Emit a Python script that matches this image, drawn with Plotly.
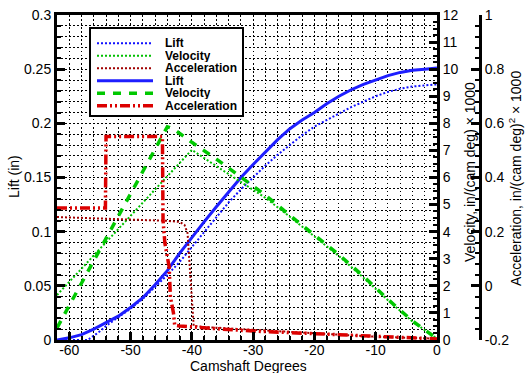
import plotly.graph_objects as go

# ---------------- data ----------------
# thin dotted series
lift_a_deg = [-62, -57, -56, -55, -54, -52, -50, -48, -46, -44, -42, -40, -38, -36, -34, -32,
              -30, -28, -26, -24, -22, -20, -18, -16, -14, -12, -10, -8, -6, -4, -2, 0]
lift_a = [0.000, 0.000, 0.004, 0.008, 0.013, 0.021, 0.029, 0.038, 0.049, 0.060, 0.072, 0.086,
          0.099, 0.113, 0.127, 0.139, 0.150, 0.161, 0.171, 0.180, 0.189, 0.197, 0.203, 0.209,
          0.215, 0.220, 0.225, 0.229, 0.232, 0.234, 0.235, 0.236]

vel_a_deg = [-62, -40, -36, -32, -28, -24, -20, -16, -12, -8, -4, 0]
vel_a = [1.66, 7.02, 6.42, 5.82, 5.25, 4.55, 3.83, 3.10, 2.30, 1.47, 0.68, 0.05]

acc_a_deg = [-62, -50, -44, -42, -41.2, -40.7, -40.3, -39.9, -39.7, -38, -30, -20, -10, 0]
acc_a = [0.254, 0.245, 0.240, 0.236, 0.225, 0.195, 0.070, -0.050, -0.148, -0.152, -0.163,
         -0.176, -0.188, -0.195]

# thick series
lift_b_deg = [-62, -60, -58, -56, -54, -52, -50, -48, -46, -44, -42, -40, -38, -36, -34, -32,
              -30, -28, -26, -24, -22, -20, -18, -16, -14, -12, -10, -8, -6, -4, -2, 0]
lift_b = [0.000, 0.002, 0.005, 0.010, 0.016, 0.022, 0.030, 0.039, 0.051, 0.064, 0.080, 0.095,
          0.109, 0.123, 0.137, 0.150, 0.162, 0.174, 0.185, 0.195, 0.203, 0.210, 0.218, 0.225,
          0.231, 0.236, 0.240, 0.244, 0.247, 0.249, 0.250, 0.251]

vel_b_deg = [-62, -44, -43, -40, -36, -32, -28, -24, -20, -16, -12, -8, -4, 0]
vel_b = [0.45, 7.87, 7.80, 7.30, 6.68, 6.02, 5.35, 4.60, 3.88, 3.15, 2.35, 1.50, 0.70, 0.05]

acc_b_deg = [-62, -54.1, -54.0, -44.8, -44.7, -44.4, -43.7, -43.5, -43.0, -42.8, -42, -40,
             -35, -30, -25, -20, -15, -10, -5, 0]
acc_b = [0.287, 0.287, 0.551, 0.551, 0.243, 0.158, 0.070, -0.041, -0.100, -0.145, -0.148,
         -0.152, -0.160, -0.167, -0.172, -0.178, -0.184, -0.189, -0.193, -0.196]

# tick labels
x_ticks = [-60, -50, -40, -30, -20, -10, 0]
x_ticktext = ["-60", "-50", "-40", "-30", "-20", "-10", "0"]
lift_ticks = [0, 0.05, 0.1, 0.15, 0.2, 0.25, 0.3]
lift_ticktext = ["0", "0.05", "0.1", "0.15", "0.2", "0.25", "0.3"]
vel_ticks = list(range(0, 13))
vel_ticktext = [str(v) for v in vel_ticks]
acc_ticks = [-0.2, 0, 0.2, 0.4, 0.6, 0.8, 1]
acc_ticktext = ["-0.2", "0", "0.2", "0.4", "0.6", "0.8", "1"]

legend_names = ["Lift", "Velocity", "Acceleration", "Lift", "Velocity", "Acceleration"]

# ---------------- styles ----------------
FONT = "Liberation Sans, Arial, sans-serif"
BLUE_T = "#1010FF"
GREEN_T = "#00C000"
RED_T = "#A00000"
BLUE = "#1E1EFF"
GREEN = "#00C800"
RED = "#DC0000"
DOT = "2px,2px"
GRIDDOT = "1.5px,2.5px"
DASH = "8px,8px"
DASHDOTDOT = "10px,3px,2px,3px,2px,3px"

styles = [
    dict(color=BLUE_T, width=2, dash=DOT),
    dict(color=GREEN_T, width=2, dash=DOT),
    dict(color=RED_T, width=2, dash=DOT),
    dict(color=BLUE, width=3, dash="solid"),
    dict(color=GREEN, width=3.5, dash=DASH),
    dict(color=RED, width=3.5, dash=DASHDOTDOT),
]

fig = go.Figure()
series = [
    (lift_a_deg, lift_a, "y"),
    (vel_a_deg, vel_a, "y2"),
    (acc_a_deg, acc_a, "y3"),
    (lift_b_deg, lift_b, "y"),
    (vel_b_deg, vel_b, "y2"),
    (acc_b_deg, acc_b, "y3"),
]
for (xs, ys, ax), st, nm in zip(series, styles, legend_names):
    fig.add_trace(go.Scatter(x=xs, y=ys, yaxis=ax, mode="lines", name=nm,
                             line=st, showlegend=False, hoverinfo="x+y"))

# ---------------- layout geometry ----------------
W, H = 526, 373
L, R, T, B = 57, 10, 15, 33
PW, PH = W - L - R, H - T - B


def px(xp):
    return (xp - L) / PW


def py(yp):
    return (H - B - yp) / PH


x_end = px(437)
tickfont = dict(family=FONT, size=14, color="black")

common_grid = dict(showgrid=True, gridcolor="black", gridwidth=1, griddash=GRIDDOT)

fig.update_layout(
    width=W, height=H,
    margin=dict(l=L, r=R, t=T, b=B, autoexpand=False),
    paper_bgcolor="white", plot_bgcolor="white",
    showlegend=False,
    font=dict(family=FONT, size=14, color="black"),
    xaxis=dict(
        domain=[0, x_end], range=[-62, 0], tickmode="array", tickvals=x_ticks,
        ticktext=x_ticktext, ticks="inside", ticklen=8, tickwidth=3, tickcolor="black",
        showline=True, linewidth=3, linecolor="black", mirror=True, zeroline=False,
        tickfont=tickfont, ticklabelstandoff=-5, **common_grid,
        minor=dict(dtick=2, tick0=0, ticks="inside", ticklen=4, tickwidth=2,
                   tickcolor="black", showgrid=True, gridcolor="black", gridwidth=1,
                   griddash=GRIDDOT),
    ),
    yaxis=dict(
        range=[0, 0.3], tickmode="array", tickvals=lift_ticks, ticktext=lift_ticktext,
        ticks="inside", ticklen=8, tickwidth=3, tickcolor="black",
        showline=True, linewidth=3, linecolor="black", zeroline=False,
        tickfont=tickfont, **common_grid,
        minor=dict(dtick=0.01, tick0=0, ticks="inside", ticklen=4, tickwidth=2,
                   tickcolor="black", showgrid=True, gridcolor="black", gridwidth=1,
                   griddash=GRIDDOT),
    ),
    yaxis2=dict(
        overlaying="y", side="right", anchor="x", range=[0, 12], tickmode="array",
        tickvals=vel_ticks, ticktext=vel_ticktext, ticks="inside", ticklen=8, tickwidth=3,
        tickcolor="black", showline=True, linewidth=3, linecolor="black", showgrid=False,
        zeroline=False, tickfont=tickfont,
        minor=dict(dtick=0.25, tick0=0, ticks="inside", ticklen=4, tickwidth=2,
                   tickcolor="black", showgrid=False),
    ),
    yaxis3=dict(
        overlaying="y", side="right", anchor="free", position=px(480), range=[-0.2, 1],
        tickmode="array", tickvals=acc_ticks, ticktext=acc_ticktext, ticks="inside",
        ticklen=8, tickwidth=3, tickcolor="black", showline=True, linewidth=3,
        linecolor="black", showgrid=False, zeroline=False, tickfont=tickfont,
        minor=dict(dtick=0.04, tick0=-0.2, ticks="inside", ticklen=4, tickwidth=2,
                   tickcolor="black", showgrid=False),
    ),
)

# axis titles
title_font = dict(family=FONT, size=14, color="black")
annotations = [
    dict(text="Camshaft Degrees", x=px(248), y=py(366), xref="paper", yref="paper",
         showarrow=False, font=title_font, xanchor="center", yanchor="middle", height=14,
         borderpad=0),
    dict(text="Lift (in)", x=px(14), y=py(177), xref="paper", yref="paper",
         showarrow=False, font=title_font, textangle=-90, xanchor="center", yanchor="middle"),
    dict(text="Velocity, in/(cam deg) × 1000", x=px(470), y=py(172), xref="paper",
         yref="paper", showarrow=False, font=title_font, textangle=-90,
         xanchor="center", yanchor="middle"),
    dict(text="Acceleration, in/(cam deg)<sup>2</sup> × 1000", x=px(515), y=py(179),
         xref="paper", yref="paper", showarrow=False, font=title_font, textangle=-90,
         xanchor="center", yanchor="middle"),
]

# legend box (drawn as layout decoration so rows can be as tight as the reference)
shapes = [dict(type="rect", xref="paper", yref="paper", x0=px(90), x1=px(243),
               y0=py(116), y1=py(28), line=dict(color="black", width=2),
               fillcolor="white", layer="above")]
row_y = [43.3, 55.8, 68.3, 80.8, 93.3, 105.8]
for ry, st, nm in zip(row_y, styles, legend_names):
    shapes.append(dict(type="line", xref="paper", yref="paper", x0=px(97), x1=px(153),
                       y0=py(ry), y1=py(ry), line=st, layer="above"))
    annotations.append(dict(text=nm, x=px(164), y=py(ry), xref="paper", yref="paper",
                            showarrow=False, xanchor="left", yanchor="middle", height=12,
                            borderpad=0,
                            font=dict(family=FONT, size=12, color="black", weight="bold")))

fig.update_layout(shapes=shapes, annotations=annotations)

fig.write_html("out.html",
               config={"displayModeBar": False},
               post_script="document.body.style.margin='0';document.body.style.padding='0';")
